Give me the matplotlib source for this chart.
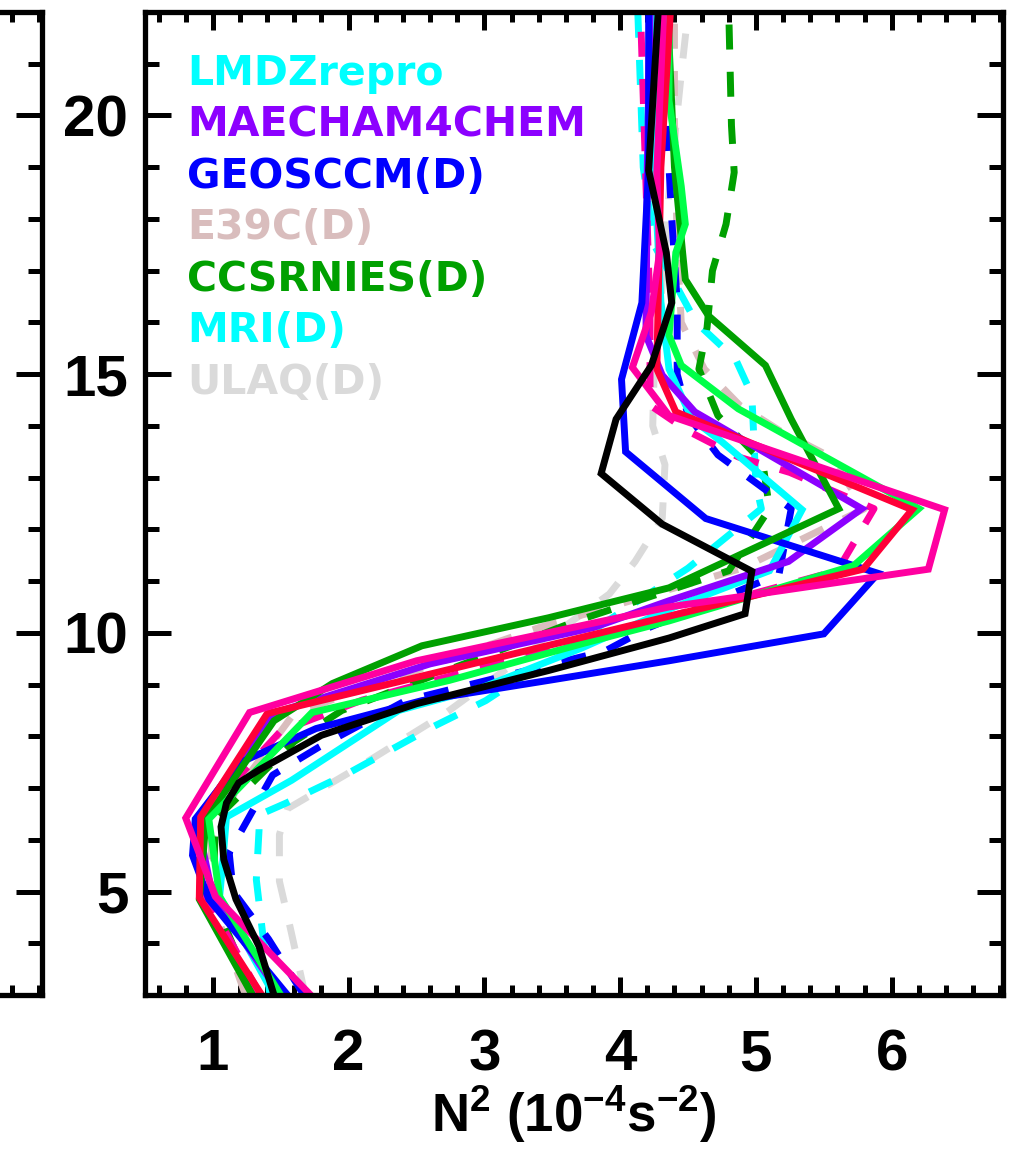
import matplotlib
matplotlib.use("Agg")
import matplotlib.pyplot as plt
from matplotlib.ticker import MultipleLocator, NullFormatter

plt.rcParams["font.family"] = "Liberation Sans"
plt.rcParams["font.weight"] = "bold"
plt.rcParams["mathtext.fontset"] = "custom"
plt.rcParams["mathtext.rm"] = "Liberation Sans:bold"
plt.rcParams["mathtext.it"] = "Liberation Sans:bold"
plt.rcParams["mathtext.bf"] = "Liberation Sans:bold"
plt.rcParams["mathtext.default"] = "rm"

# N^2 profiles (10^-4 s^-2) against altitude (km)
obs_n2 = [1.45, 1.34, 1.17, 1.08, 1.06, 1.10, 1.19, 1.34, 1.80, 2.50, 3.47,
          4.36, 4.92, 4.97, 4.31, 3.86, 3.97, 4.23, 4.38, 4.34, 4.21, 4.28]
obs_z = [3.0, 3.94, 4.85, 5.62, 6.25, 6.71, 7.1, 7.35, 8.02, 8.63, 9.27,
         9.9, 10.37, 11.19, 12.1, 13.08, 14.13, 15.17, 16.38, 17.35, 18.94, 22.0]

lmdz_n2 = [1.45, 1.05, 1.07, 1.10, 1.58, 2.37, 2.98, 3.72, 4.40, 5.10, 5.34,
           4.75, 4.53, 4.36, 4.30, 4.25, 4.25]
lmdz_z = [3.0, 4.9, 5.5, 6.44, 7.15, 8.5, 8.94, 9.71, 10.5, 11.2, 12.38,
          13.69, 14.13, 15.1, 16.4, 19.0, 22.0]

maecham_n2 = [1.5, 1.0, 0.88, 1.45, 2.6, 3.8, 4.36, 5.24, 5.78, 4.55, 4.31,
              4.19, 4.2, 4.22]
maecham_z = [3.0, 4.9, 6.4, 8.45, 9.4, 10.1, 10.62, 11.38, 12.4, 14.27, 14.98,
             15.75, 19.0, 22.0]

geos_n2 = [1.55, 0.97, 0.85, 0.87, 1.19, 1.76, 2.54, 3.47, 4.36, 5.50, 5.90,
           4.63, 4.04, 4.01, 4.16, 4.21, 4.21]
geos_z = [3.0, 4.85, 5.7, 6.4, 7.48, 8.15, 8.69, 9.08, 9.46, 9.98, 11.15,
          12.21, 13.5, 14.9, 16.38, 19.0, 22.0]

geos_d_n2 = [1.67, 1.41, 1.15, 1.12, 1.44, 1.78, 2.42, 3.89, 4.21, 5.17, 5.26,
             4.72, 4.5, 4.42, 4.42, 4.38, 4.3]
geos_d_z = [3.0, 4.08, 5.0, 5.75, 7.25, 7.79, 8.69, 9.65, 10.1, 11.13, 12.4,
            13.44, 14.2, 15.0, 16.4, 18.0, 22.0]

e39c_d_n2 = [1.24, 0.98, 0.99, 1.05, 1.6, 3.4, 4.9, 5.8, 5.55, 5.18, 4.88,
             4.62, 4.45, 4.42, 4.4, 4.4]
e39c_d_z = [3.0, 4.9, 6.0, 6.5, 8.45, 10.1, 11.25, 12.4, 13.4, 13.9, 14.4,
            15.1, 16.0, 17.5, 19.9, 22.0]

ccsr_n2 = [1.29, 0.9, 0.95, 1.45, 1.88, 2.54, 3.47, 4.36, 5.61, 5.26, 5.07,
           4.65, 4.48, 4.46, 4.4, 4.35]
ccsr_z = [3.0, 4.85, 6.4, 8.3, 9.02, 9.75, 10.29, 10.87, 12.4, 14.13, 15.17,
          16.13, 16.83, 17.35, 19.0, 22.0]

ccsr_d_n2 = [1.3, 1.0, 1.02, 1.6, 1.95, 3.7, 4.8, 5.1, 5.05, 4.72, 4.58, 4.64,
             4.68, 4.78, 4.84, 4.82, 4.8]
ccsr_d_z = [3.0, 4.9, 6.4, 7.9, 8.5, 10.25, 11.2, 12.4, 13.3, 14.2, 15.1, 15.9,
            17.0, 17.9, 18.9, 19.8, 22.0]

mri_d_n2 = [1.42, 1.32, 1.34, 1.34, 1.54, 2.0, 2.61, 3.01, 4.5, 5.04, 5.0,
            4.97, 4.85, 4.56, 4.25, 4.17, 4.13]
mri_d_z = [3.0, 5.23, 6.19, 6.48, 6.71, 7.29, 8.17, 8.69, 11.25, 12.4, 12.87,
           14.6, 15.29, 16.0, 17.5, 19.0, 22.0]

ulaq_d_n2 = [1.68, 1.57, 1.49, 1.49, 1.55, 2.07, 2.71, 3.92, 4.11, 4.31, 4.33,
             4.24, 4.25, 4.3, 4.36, 4.45, 4.5]
ulaq_d_z = [3.0, 4.3, 5.2, 6.1, 6.6, 7.4, 8.44, 10.75, 11.38, 12.21, 13.25,
            14.0, 15.0, 16.4, 18.5, 20.8, 22.0]

lgreen_n2 = [1.5, 1.05, 0.97, 1.73, 2.74, 3.72, 4.36, 5.72, 6.2, 4.87, 4.45,
             4.36, 4.41, 4.48, 4.45, 4.36, 4.36]
lgreen_z = [3.0, 4.9, 6.4, 8.46, 9.08, 9.79, 10.23, 11.3, 12.4, 14.33, 15.17,
            15.75, 17.35, 17.9, 18.63, 20.29, 22.0]

red_n2 = [1.36, 0.9, 0.91, 1.4, 5.79, 6.15, 4.41, 4.27, 4.3, 4.37]
red_z = [3.0, 4.88, 6.44, 8.44, 11.23, 12.38, 14.27, 15.1, 19.0, 22.0]

pink_n2 = [1.72, 1.02, 0.8, 1.27, 2.5, 4.36, 6.27, 6.39, 4.36, 4.09, 4.23,
           4.29, 4.27, 4.32]
pink_z = [3.0, 4.9, 6.42, 8.46, 9.46, 10.5, 11.23, 12.38, 14.2, 15.13, 16.2,
          17.35, 18.9, 22.0]

pink_d_n2 = [1.35, 0.95, 0.9, 1.5, 2.1, 5.6, 5.87, 5.25, 4.87, 4.5, 4.22,
             4.22, 4.15]
pink_d_z = [3.0, 4.9, 6.4, 8.1, 8.7, 11.2, 12.4, 13.1, 13.4, 13.9, 14.4,
            16.2, 22.0]

legend_names = ["LMDZrepro", "MAECHAM4CHEM", "GEOSCCM(D)", "E39C(D)",
                "CCSRNIES(D)", "MRI(D)", "ULAQ(D)"]
legend_colors = ["#00FFFF", "#8C00FF", "#0000FF", "#D9BDBD",
                 "#00A000", "#00FFFF", "#DADADA"]

CYAN, PURPLE, BLUE, ROSE = "#00FFFF", "#8C00FF", "#0000FF", "#D9BDBD"
DKGREEN, GRAY, LTGREEN = "#00A000", "#DADADA", "#00FF48"
RED, PINK = "#FF0038", "#FF00A0"

# drawn in this order: dashed first, then solids, obs last
profiles = [
    (ulaq_d_n2, ulaq_d_z, GRAY, "--"),
    (e39c_d_n2, e39c_d_z, ROSE, "--"),
    (mri_d_n2, mri_d_z, CYAN, "--"),
    (ccsr_d_n2, ccsr_d_z, DKGREEN, "--"),
    (geos_d_n2, geos_d_z, BLUE, "--"),
    (pink_d_n2, pink_d_z, PINK, "--"),
    (lmdz_n2, lmdz_z, CYAN, "-"),
    (maecham_n2, maecham_z, PURPLE, "-"),
    (geos_n2, geos_z, BLUE, "-"),
    (ccsr_n2, ccsr_z, DKGREEN, "-"),
    (lgreen_n2, lgreen_z, LTGREEN, "-"),
    (red_n2, red_z, RED, "-"),
    (pink_n2, pink_z, PINK, "-"),
    (obs_n2, obs_z, "black", "-"),
]

W, H = 1011, 1155
fig = plt.figure(figsize=(W / 100, H / 100), dpi=100)
ax = fig.add_axes([145 / W, 160 / H, 858 / W, 983 / H])
# neighbouring panel, only its right edge is visible
axl = fig.add_axes([(42 - 858) / W, 160 / H, 858 / W, 983 / H])


def style_axes(a):
    a.set_xlim(0.5, 6.82)
    a.set_ylim(3, 22)
    a.xaxis.set_major_locator(MultipleLocator(1))
    a.xaxis.set_minor_locator(MultipleLocator(0.2))
    a.yaxis.set_major_locator(MultipleLocator(5))
    a.yaxis.set_minor_locator(MultipleLocator(1))
    for s in a.spines.values():
        s.set_linewidth(3.8)
    a.tick_params(which="both", direction="in", top=True, right=True,
                  width=3.6, labelsize=42)
    a.tick_params(axis="y", which="major", length=19, pad=12)
    a.tick_params(axis="y", which="minor", length=10)
    a.tick_params(axis="x", which="major", length=13, pad=24)
    a.tick_params(axis="x", which="minor", length=7.5)


style_axes(ax)
style_axes(axl)
axl.xaxis.set_major_formatter(NullFormatter())
axl.yaxis.set_major_formatter(NullFormatter())

for xs, zs, col, ls in profiles:
    ax.plot(xs, zs, color=col, linestyle=ls, linewidth=5.0,
            dashes=(3.6, 3.2) if ls == "--" else (None, None),
            solid_joinstyle="miter", clip_on=True)

for i, (name, col) in enumerate(zip(legend_names, legend_colors)):
    ax.text(0.049, 0.926 - i * 0.0524, name, color=col, fontsize=29.5,
            fontweight="bold", family="DejaVu Sans", va="baseline",
            transform=ax.transAxes)

ax.set_xlabel(r"N$^2$ (10$^{-4}$s$^{-2}$)", fontsize=38, fontweight="bold",
              labelpad=1)

fig.savefig("out.png", dpi=100, facecolor="white")
